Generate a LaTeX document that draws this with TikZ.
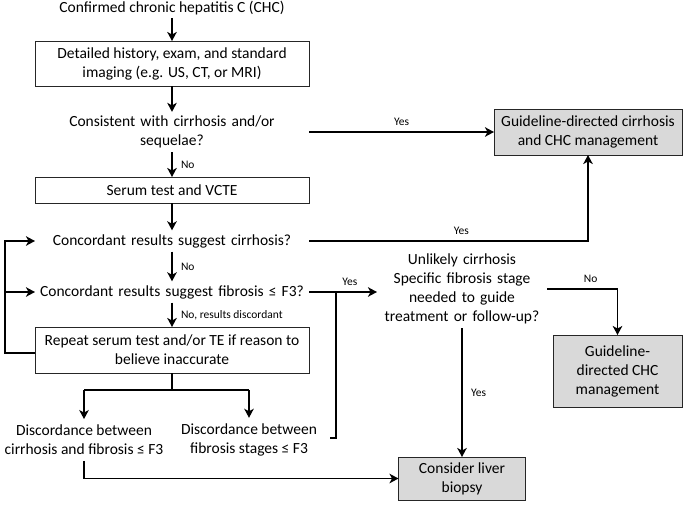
\documentclass[tikz,border=0pt]{standalone}
\usepackage{fontspec}
\setmainfont{Carlito}
\usetikzlibrary{arrows.meta}
\begin{document}
\begin{tikzpicture}[x=1pt,y=-1pt,
  every node/.style={font=\fontsize{15.5}{19}\selectfont, inner sep=0pt, outer sep=0pt},
  box/.style={draw=black!85, line width=0.8pt, align=center},
  gbox/.style={box, fill=black!15},
  q/.style={text width=274pt, align=center, inner sep=4pt, inner xsep=0pt},
  lbl/.style={font=\fontsize{11.5}{13}\selectfont, inner sep=1pt},
  ln/.style={line width=1.8pt},
  conn/.style={ln, -{Stealth[length=9pt,width=9.5pt,inset=2.5pt]}}
]
\useasboundingbox (0,0) rectangle (685,504);

% nodes
\node[inner sep=3pt] (t0) at (172,8) {Confirmed chronic hepatitis C (CHC)};
\node[box, minimum width=274pt, minimum height=45pt] (b1) at (172,63.5) {Detailed history, exam, and standard\\imaging (e.g. US, CT, or MRI)};
\node[q] (q1) at (172,132) {Consistent with cirrhosis and/or\\sequelae?};
\node[box, minimum width=274pt, minimum height=26pt] (b2) at (172,190) {Serum test and VCTE};
\node[q] (q2) at (172,241) {Concordant results suggest cirrhosis?};
\node[q] (q3) at (172,292) {Concordant results suggest fibrosis ≤ F3?};
\node[box, minimum width=274pt, minimum height=46pt] (b3) at (172,350) {Repeat serum test and/or TE if reason to\\believe inaccurate};
\node[align=center, inner sep=6pt] (d1) at (84,440) {Discordance between\\cirrhosis and fibrosis ≤ F3};
\node[align=center, inner sep=6pt] (d2) at (249,440) {Discordance between\\fibrosis stages ≤ F3};
\node[align=center, text width=170pt, inner sep=4pt, inner xsep=0pt] (u) at (462,289) {Unlikely cirrhosis\\Specific fibrosis stage\\needed to guide\\treatment or follow-up?};
\node[gbox, minimum width=188pt, minimum height=46pt] (g1) at (588,132) {Guideline-directed cirrhosis\\and CHC management};
\node[gbox, minimum width=129pt, minimum height=72pt] (g2) at (617.5,371) {Guideline-\\directed CHC\\management};
\node[gbox, minimum width=127pt, minimum height=43pt] (g3) at (462,478.5) {Consider liver\\biopsy};

\coordinate (lb) at (5,353);
\coordinate (sp) at (172,390);
\coordinate (bkb) at (330,438);
\coordinate (bkt) at (336,292);

% connectors
\draw[conn] (t0.south) -- (b1.north);
\draw[conn] (b1.south) -- (q1.north);
\draw[conn] (q1.south) -- node[lbl, right=8pt] {No} (b2.north);
\draw[conn] (q1.east) -- node[lbl, above=5pt] {Yes} (g1.west);
\draw[conn] (b2.south) -- (q2.north);
\draw[conn] (q2.east) -| node[lbl, above=5pt, pos=0.273] {Yes} (g1.south);
\draw[conn] (q2.south) -- node[lbl, right=8pt] {No} (q3.north);
\draw[conn] (q3.south) -- node[lbl, right=8pt, anchor=west] {No, results discordant} (b3.north);
\draw[conn] (b3.west |- lb) -- (lb) |- (q2.west);
\draw[conn] (lb |- q3.west) -- (q3.west);
\draw[conn] (q3.east) -- node[lbl, above=5pt, pos=0.6] {Yes} (u.west |- q3.east);
\draw[ln] (bkb) -| (bkt);
\draw[ln] (b3.south) -- (sp);
\draw[ln] (d1.north |- sp) -- (d2.north |- sp);
\draw[conn] (d1.north |- sp) -- (d1.north);
\draw[conn] (d2.north |- sp) -- (d2.north);
\draw[conn] (d1.south) |- (g3.west);
\draw[conn] (u.east) -| node[lbl, above=5pt, pos=0.31] {No} (g2.north);
\draw[conn] (u.south) -- node[lbl, right=8pt] {Yes} (g3.north);
\end{tikzpicture}
\end{document}
